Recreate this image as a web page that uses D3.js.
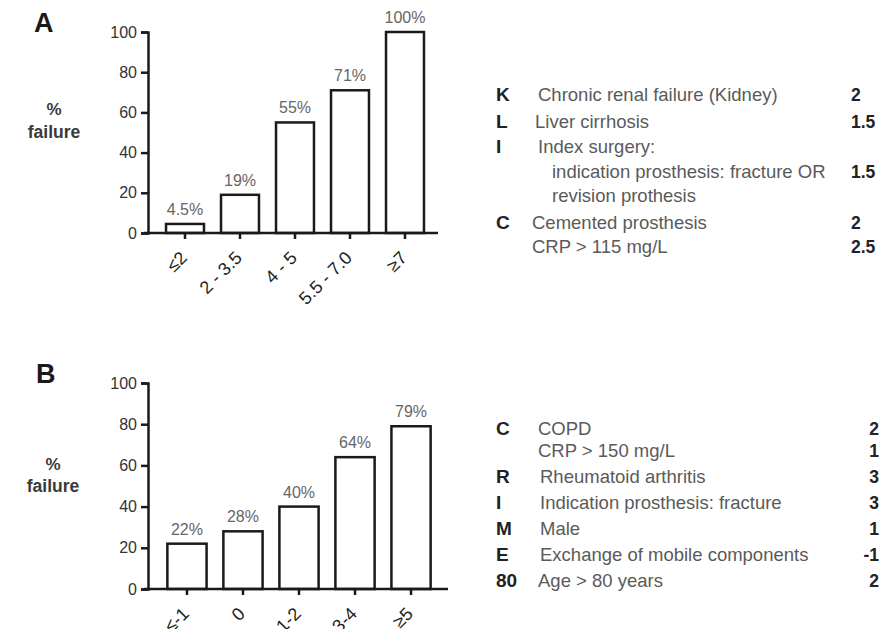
<!DOCTYPE html>
<html>
<head>
<meta charset="utf-8">
<script src="https://cdn.jsdelivr.net/npm/d3@7"></script>
<style>
  html, body { margin: 0; padding: 0; background: #fff; }
  svg { display: block; font-family: "Liberation Sans", Arial, sans-serif; }
</style>
</head>
<body>
<script>
// ---- Data ----
const categoriesA = ["≤2", "2 - 3.5", "4 - 5", "5.5 - 7.0", "≥7"];
const valuesA = [4.5, 19, 55, 71, 100];
const valueLabelsA = ["4.5%", "19%", "55%", "71%", "100%"];

const categoriesB = ["≤-1", "0", "1-2", "3-4", "≥5"];
const valuesB = [22, 28, 40, 64, 79];
const valueLabelsB = ["22%", "28%", "40%", "64%", "79%"];

const yTicks = [0, 20, 40, 60, 80, 100];

const lettersA = ["K", "L", "I", "", "", "C", ""];
const textsA = ["Chronic renal failure (Kidney)", "Liver cirrhosis", "Index surgery:",
  "indication prosthesis: fracture OR", "revision prothesis", "Cemented prosthesis", "CRP > 115 mg/L"];
const scoresA = ["2", "1.5", "", "1.5", "", "2", "2.5"];

const lettersB = ["C", "", "R", "I", "M", "E", "80"];
const textsB = ["COPD", "CRP > 150 mg/L", "Rheumatoid arthritis", "Indication prosthesis: fracture",
  "Male", "Exchange of mobile components", "Age > 80 years"];
const scoresB = ["2", "1", "3", "3", "1", "-1", "2"];

// ---- Layout ----
const W = 896, H = 629;
const svg = d3.select("body").append("svg").attr("width", W).attr("height", H);

function panel(cfg) {
  const g = svg.append("g");
  const y = d3.scaleLinear().domain([0, 100]).range([cfg.y0, cfg.y100]);
  const x = d3.scaleBand().domain(cfg.cats).range([cfg.xStart, cfg.xEnd])
    .paddingInner(cfg.pIn).paddingOuter(cfg.pOut);

  // panel letter
  g.append("text").attr("x", cfg.letterX).attr("y", cfg.letterY)
    .attr("font-size", 27).attr("font-weight", "bold").attr("fill", "#1a1a1a").text(cfg.letter);
  // y label
  g.append("text").attr("x", cfg.ylabX).attr("y", cfg.ylabY1).attr("text-anchor", "middle")
    .attr("font-size", 17).attr("font-weight", "bold").attr("fill", "#3a3a3a").text("%");
  g.append("text").attr("x", cfg.ylabX).attr("y", cfg.ylabY2).attr("text-anchor", "middle")
    .attr("font-size", 17.5).attr("font-weight", "bold").attr("fill", "#3a3a3a").text("failure");

  // bars
  g.selectAll("rect.bar").data(cfg.vals).enter().append("rect")
    .attr("x", (d, i) => x(cfg.cats[i]))
    .attr("y", d => y(d))
    .attr("width", x.bandwidth())
    .attr("height", d => y(0) - y(d))
    .attr("fill", "#fff").attr("stroke", "#1a1a1a").attr("stroke-width", 2.5);

  // value labels
  g.selectAll("text.vl").data(cfg.vals).enter().append("text")
    .attr("x", (d, i) => x(cfg.cats[i]) + x.bandwidth() / 2)
    .attr("y", d => y(d) - 9)
    .attr("text-anchor", "middle").attr("font-size", 16).attr("fill", "#666")
    .text((d, i) => cfg.labels[i]);

  // y axis
  const yAxis = d3.axisLeft(y).tickValues(yTicks).tickSize(7).tickPadding(4);
  const ya = g.append("g").attr("transform", `translate(${cfg.xAxis0},0)`).call(yAxis);
  ya.select(".domain").attr("stroke", "#1a1a1a").attr("stroke-width", 2.5);
  ya.selectAll(".tick line").attr("stroke", "#1a1a1a").attr("stroke-width", 2.5);
  ya.selectAll(".tick text").attr("font-size", 16).attr("fill", "#333")
    .attr("font-family", "Liberation Sans, Arial, sans-serif");

  // x axis
  const xAxis = d3.axisBottom(x).tickSize(6).tickSizeOuter(0).tickPadding(3);
  const xa = g.append("g").attr("transform", `translate(0,${cfg.y0})`).call(xAxis);
  xa.select(".domain").attr("d", `M${cfg.xAxis0 - 4},0H${cfg.xAxisEnd}`)
    .attr("stroke", "#1a1a1a").attr("stroke-width", 2.5);
  xa.selectAll(".tick line").attr("stroke", "#1a1a1a").attr("stroke-width", 2.5);
  xa.selectAll(".tick text")
    .attr("font-size", 18).attr("fill", "#222")
    .attr("font-family", "Liberation Sans, Arial, sans-serif")
    .attr("text-anchor", "end")
    .attr("transform", "translate(3,26) rotate(-45)")
    .attr("dy", 0).attr("y", 0).attr("x", 0);
}

panel({
  cats: categoriesA, vals: valuesA, labels: valueLabelsA,
  y0: 233, y100: 32, xStart: 152, xEnd: 438, pIn: 0.31, pOut: 0.255, xAxis0: 148, xAxisEnd: 438,
  letter: "A", letterX: 34, letterY: 32, ylabX: 54, ylabY1: 115, ylabY2: 138
});
panel({
  cats: categoriesB, vals: valuesB, labels: valueLabelsB,
  y0: 589, y100: 383, xStart: 150, xEnd: 448, pIn: 0.3, pOut: 0.31, xAxis0: 148, xAxisEnd: 448,
  letter: "B", letterX: 36, letterY: 383, ylabX: 53, ylabY1: 470, ylabY2: 492
});

// ---- Tables ----
function table(letters, texts, scores, opts) {
  const g = svg.append("g");
  letters.forEach((l, i) => {
    const by = opts.baselines[i];
    if (l) g.append("text").attr("x", 496).attr("y", by).attr("font-size", 19)
      .attr("font-weight", "bold").attr("fill", "#222").text(l);
    g.append("text").attr("x", opts.textX[i]).attr("y", by).attr("font-size", 18.5)
      .attr("fill", "#5a5a5a").text(texts[i]);
    if (scores[i]) g.append("text").attr("x", opts.scoreX).attr("y", by)
      .attr("text-anchor", opts.scoreAnchor).attr("font-size", 17.5)
      .attr("font-weight", "bold").attr("fill", "#222").text(scores[i]);
  });
}
table(lettersA, textsA, scoresA, {
  baselines: [101, 128, 153, 178, 202, 229, 253],
  textX: [538, 535, 538, 552, 552, 532, 532],
  scoreX: 851, scoreAnchor: "start"
});
table(lettersB, textsB, scoresB, {
  baselines: [435, 457, 483, 509, 535, 561, 587],
  textX: [538, 538, 540, 540, 540, 540, 538],
  scoreX: 879, scoreAnchor: "end"
});
</script>
</body>
</html>
